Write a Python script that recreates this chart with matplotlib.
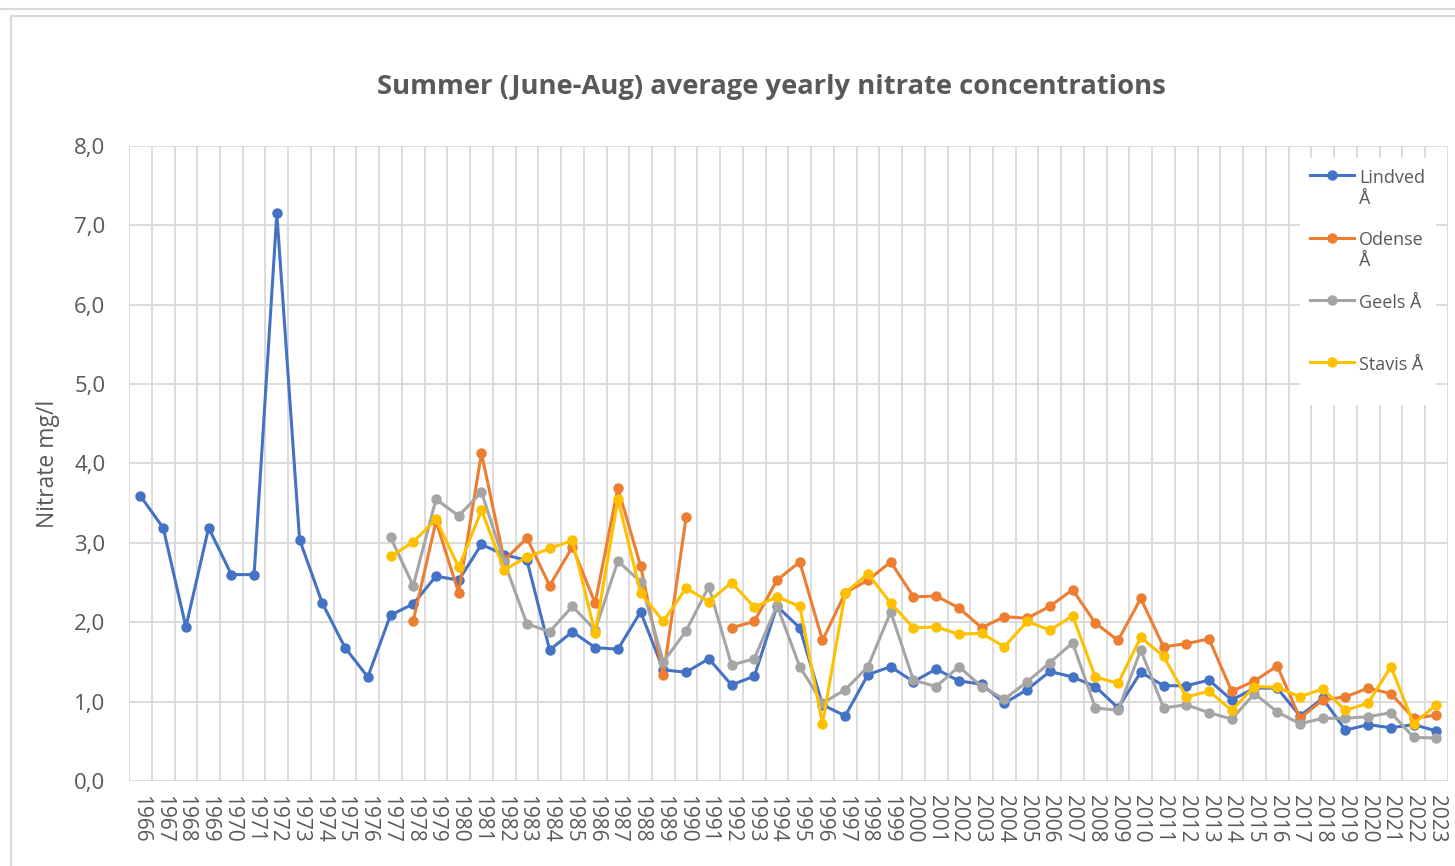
import numpy as np
import matplotlib
import matplotlib.pyplot as plt
from matplotlib.lines import Line2D
from matplotlib.patches import Rectangle
from matplotlib.offsetbox import HPacker

matplotlib.use("agg")

nan = np.nan

years = list(range(1966, 2024))

# summer average nitrate, mg/l (1966-2023)
lindved = [
    3.59, 3.19, 1.94, 3.19, 2.60, 2.60, 7.15, 3.04, 2.24, 1.68,
    1.31, 2.09, 2.23, 2.58, 2.53, 2.98, 2.85, 2.78, 1.65, 1.88,
    1.68, 1.66, 2.13, 1.40, 1.37, 1.54, 1.21, 1.32, 2.20, 1.93,
    0.96, 0.82, 1.34, 1.44, 1.25, 1.41, 1.26, 1.22, 0.98, 1.15,
    1.38, 1.31, 1.19, 0.92, 1.37, 1.20, 1.20, 1.27, 1.02, 1.17,
    1.17, 0.82, 1.04, 0.64, 0.71, 0.67, 0.71, 0.63,
]
odense = [
    nan, nan, nan, nan, nan, nan, nan, nan, nan, nan,
    nan, nan, 2.02, 3.27, 2.37, 4.13, 2.78, 3.06, 2.46, 2.95,
    2.24, 3.69, 2.71, 1.33, 3.32, nan, 1.93, 2.01, 2.53, 2.76,
    1.77, 2.37, 2.53, 2.76, 2.32, 2.33, 2.18, 1.93, 2.07, 2.05,
    2.20, 2.41, 1.99, 1.77, 2.30, 1.69, 1.73, 1.79, 1.13, 1.26,
    1.45, 0.79, 1.02, 1.06, 1.17, 1.10, 0.79, 0.83,
]
geels = [
    nan, nan, nan, nan, nan, nan, nan, nan, nan, nan,
    nan, 3.07, 2.46, 3.55, 3.34, 3.64, 2.76, 1.98, 1.88, 2.20,
    1.90, 2.77, 2.51, 1.50, 1.89, 2.45, 1.46, 1.54, 2.21, 1.44,
    0.98, 1.15, 1.44, 2.13, 1.27, 1.19, 1.44, 1.19, 1.03, 1.25,
    1.49, 1.74, 0.92, 0.89, 1.65, 0.92, 0.96, 0.86, 0.78, 1.10,
    0.87, 0.72, 0.79, 0.79, 0.81, 0.86, 0.55, 0.54,
]
stavis = [
    nan, nan, nan, nan, nan, nan, nan, nan, nan, nan,
    nan, 2.83, 3.01, 3.30, 2.69, 3.41, 2.66, 2.82, 2.93, 3.03,
    1.86, 3.55, 2.37, 2.01, 2.43, 2.26, 2.50, 2.19, 2.32, 2.20,
    0.72, 2.37, 2.61, 2.24, 1.93, 1.94, 1.85, 1.86, 1.69, 2.01,
    1.90, 2.08, 1.31, 1.23, 1.81, 1.57, 1.06, 1.13, 0.89, 1.19,
    1.18, 1.06, 1.16, 0.89, 0.98, 1.44, 0.72, 0.96,
]

series_labels = ["Lindved\nÅ", "Odense\nÅ", "Geels Å\n ", "Stavis Å\n "]
series_colors = ["#4472C4", "#ED7D31", "#A5A5A5", "#FFC000"]

y_ticks = [0, 1, 2, 3, 4, 5, 6, 7, 8]
y_ticklabels = ["0,0", "1,0", "2,0", "3,0", "4,0", "5,0", "6,0", "7,0", "8,0"]

text_grey = "#595959"
grid_grey = "#D9D9D9"

plt.rcParams["font.family"] = ["Open Sans", "DejaVu Sans"]

fig = plt.figure(figsize=(14.55, 8.66), dpi=100)
ax = fig.add_axes([0.0887, 0.0982, 0.9063, 0.7332])

x = np.arange(len(years))
for values, label, color in zip([lindved, odense, geels, stavis], series_labels, series_colors):
    ax.plot(x, values, color=color, lw=2.2, marker="o", markersize=6.5, label=label)

ax.set_xlim(-0.5, len(years) - 0.5)
ax.set_ylim(0, 8)

ax.set_xticks(x)
ax.set_xticklabels([str(y) for y in years], rotation=270, fontsize=15, color=text_grey)
ax.set_xticks(np.arange(len(years) + 1) - 0.5, minor=True)
ax.set_yticks(y_ticks)
ax.set_yticklabels(y_ticklabels, fontsize=16, color=text_grey)

ax.tick_params(axis="x", which="both", length=0, pad=10)
ax.tick_params(axis="y", length=0, pad=17)

ax.grid(axis="x", which="minor", color=grid_grey, lw=1.3)
ax.grid(axis="y", which="major", color=grid_grey, lw=1.3)
ax.set_axisbelow(True)
for s in ax.spines.values():
    s.set_visible(False)

ax.set_ylabel("Nitrate mg/l", fontsize=16.5, color=text_grey, labelpad=10)

leg = ax.legend(loc="upper right", bbox_to_anchor=(0.998, 0.995), fontsize=13,
                frameon=True, facecolor="white", edgecolor="none", framealpha=1,
                fancybox=False, handlelength=2.4, handletextpad=0.3,
                labelspacing=1.3, borderpad=0.6)
for t in leg.get_texts():
    t.set_color(text_grey)
for p in leg.findobj(HPacker):
    p.align = "top"

fig.text(0.53, 0.9, "Summer (June-Aug) average yearly nitrate concentrations",
         ha="center", va="center", fontsize=19.7, fontweight="bold", color=text_grey)

# chart-area frame
fig.add_artist(Line2D([0, 1], [1 - 9 / 866, 1 - 9 / 866], transform=fig.transFigure,
                      color=grid_grey, lw=1.5))
fig.add_artist(Rectangle((11 / 1455, -0.1), 1.2, 1.1 - 16 / 866, transform=fig.transFigure,
                         fill=False, edgecolor=grid_grey, lw=1.5))

fig.savefig("out.png", dpi=100)
